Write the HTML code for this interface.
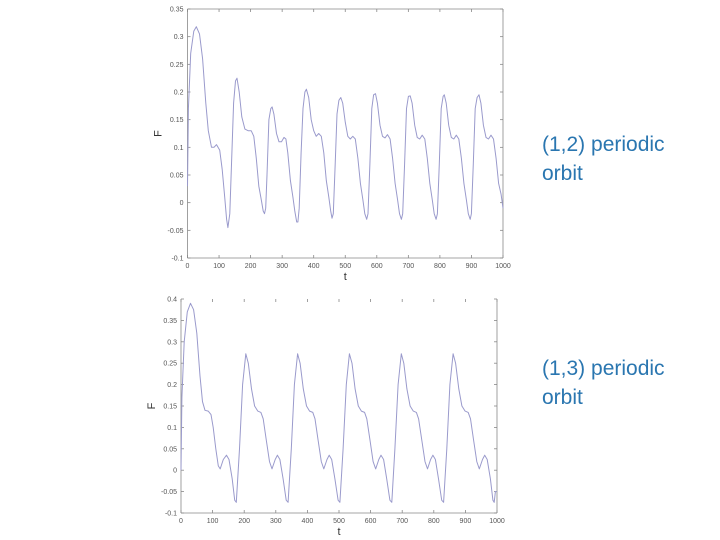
<!DOCTYPE html>
<html><head><meta charset="utf-8"><style>
body{margin:0;background:#fff;width:720px;height:540px;overflow:hidden;font-family:"Liberation Sans",sans-serif}
.cap{position:absolute;left:542px;color:#2a76b0;font-size:21px;line-height:29px}
</style></head><body>
<svg id="svg" width="720" height="540" style="position:absolute;left:0;top:0"></svg>
<div class="cap" style="top:130px">(1,2) periodic<br>orbit</div>
<div class="cap" style="top:354px">(1,3) periodic<br>orbit</div>
<script>
const xTicks=[0,100,200,300,400,500,600,700,800,900,1000];
const yTicksTop=[0.35,0.3,0.25,0.2,0.15,0.1,0.05,0,-0.05,-0.1];
const yTicksBot=[0.4,0.35,0.3,0.25,0.2,0.15,0.1,0.05,0,-0.05,-0.1];
const tTop=[0,3,10,20,28,38,48,58,66,76,84,92,102,110,118,124,128,134,140,146,152,157,164,172,182,192,202,210,218,226,234,240,244,248,252,258,264,268,274,282,290,298,306,312,318,326,334,340,346,350,354,360,366,372,377,384,392,400,408,416,424,432,440,448,454,458,462,468,474,480,486,492,500,508,516,524,532,540,548,556,562,568,572,578,584,590,596,602,610,618,626,634,642,650,658,666,672,678,682,688,694,700,706,712,720,728,736,744,752,760,768,776,782,788,792,798,804,810,814,820,828,836,844,852,860,868,876,884,890,896,900,906,912,918,924,930,938,946,954,962,970,978,986,994,1000];
const fTop=[0.03,0.17,0.27,0.31,0.318,0.305,0.26,0.18,0.13,0.10,0.10,0.105,0.095,0.06,0.01,-0.03,-0.045,-0.02,0.08,0.18,0.22,0.225,0.2,0.155,0.133,0.13,0.13,0.12,0.08,0.03,0.005,-0.015,-0.02,-0.01,0.05,0.15,0.17,0.173,0.16,0.125,0.11,0.11,0.118,0.115,0.09,0.04,0.01,-0.015,-0.035,-0.035,-0.01,0.09,0.17,0.2,0.205,0.19,0.15,0.13,0.12,0.125,0.12,0.09,0.04,0.01,-0.015,-0.028,-0.02,0.07,0.16,0.185,0.19,0.18,0.145,0.12,0.115,0.12,0.115,0.08,0.035,0.005,-0.02,-0.03,-0.02,0.07,0.17,0.195,0.197,0.18,0.14,0.12,0.117,0.123,0.115,0.08,0.035,0.005,-0.02,-0.03,-0.02,0.07,0.17,0.192,0.193,0.18,0.14,0.118,0.115,0.122,0.115,0.08,0.035,0.005,-0.02,-0.03,-0.02,0.07,0.17,0.192,0.195,0.18,0.14,0.118,0.115,0.122,0.115,0.08,0.035,0.005,-0.02,-0.03,-0.02,0.07,0.17,0.19,0.195,0.18,0.14,0.118,0.115,0.122,0.115,0.08,0.035,0.015,-0.01];
const tBot=[0,3,10,20,30,40,50,60,68,76,86,95,102,110,118,124,134,144,152,162,170,175,185,195,205,213,223,233,243,253,260,270,280,288,298,305,313,323,333,339,349,359,369,377,387,397,407,417,424,434,444,452,462,469,477,487,497,503,513,523,533,541,551,561,571,581,588,598,608,616,626,633,641,651,661,667,677,687,697,705,715,725,735,745,752,762,772,780,790,797,805,815,825,831,841,851,861,869,879,889,899,909,916,926,936,944,954,961,969,979,987,991,995,1000];
const fBot=[0,0.17,0.3,0.37,0.39,0.375,0.32,0.22,0.16,0.14,0.138,0.13,0.1,0.05,0.01,0.003,0.025,0.035,0.025,-0.02,-0.07,-0.075,0.05,0.2,0.272,0.25,0.19,0.15,0.138,0.135,0.12,0.07,0.02,0.003,0.025,0.035,0.025,-0.02,-0.07,-0.075,0.05,0.2,0.272,0.25,0.19,0.15,0.138,0.135,0.12,0.07,0.02,0.003,0.025,0.035,0.025,-0.02,-0.07,-0.075,0.05,0.2,0.272,0.25,0.19,0.15,0.138,0.135,0.12,0.07,0.02,0.003,0.025,0.035,0.025,-0.02,-0.07,-0.075,0.05,0.2,0.272,0.25,0.19,0.15,0.138,0.135,0.12,0.07,0.02,0.003,0.025,0.035,0.025,-0.02,-0.07,-0.075,0.05,0.2,0.272,0.25,0.19,0.15,0.138,0.135,0.12,0.07,0.02,0.003,0.025,0.035,0.025,-0.02,-0.07,-0.075,-0.05,-0.05];
const NS="http://www.w3.org/2000/svg",svg=document.getElementById('svg');
function mk(tag,at,txt){const e=document.createElementNS(NS,tag);for(const k in at)e.setAttribute(k,at[k]);if(txt!==undefined)e.textContent=txt;svg.appendChild(e);return e;}
function chart(id,L,R,T,B,ymin,ymax,yt,ts,fs,topLine){
 const sx=v=>L+(v-0)/1000*(R-L), sy=v=>B-(v-ymin)/(ymax-ymin)*(B-T);
 const ax=mk('g',{});
 
 
 const st={stroke:'#888','stroke-width':0.8};
 mk('line',Object.assign({x1:L,y1:T,x2:L,y2:B},st));
 mk('line',Object.assign({x1:R,y1:T,x2:R,y2:B},st));
 mk('line',Object.assign({x1:L,y1:B,x2:R,y2:B},st));
 if(topLine)mk('line',Object.assign({x1:L,y1:T,x2:R,y2:T},st));
 xTicks.forEach(v=>{const x=sx(v);
  mk('line',{x1:x,y1:B,x2:x,y2:B-3,stroke:'#888','stroke-width':0.8});
  mk('line',{x1:x,y1:T,x2:x,y2:T+3,stroke:'#888','stroke-width':0.8});
  const e=mk('text',{x:x,y:B+10,'font-size':7,fill:'#555','text-anchor':'middle'},String(v));
  
  });
 yt.forEach(v=>{const y=sy(v);
  mk('line',{x1:L,y1:y,x2:L+3,y2:y,stroke:'#888','stroke-width':0.8});
  mk('line',{x1:R,y1:y,x2:R-3,y2:y,stroke:'#888','stroke-width':0.8});
  const e=mk('text',{x:L-4,y:y+2.5,'font-size':7,fill:'#555','text-anchor':'end'},String(v));
  
  });
 const xl=mk('text',{x:(L+R)/2,y:B+22,'font-size':11,fill:'#333','text-anchor':'middle'},'t');
 
 
 const yl=mk('text',{x:L-26,y:(T+B)/2,'font-size':11,fill:'#333','text-anchor':'middle',transform:`rotate(-90 ${L-26} ${(T+B)/2})`},'F');
 
 
 const pts=ts.map((t,i)=>sx(t).toFixed(1)+','+sy(fs[i]).toFixed(1)).join(' ');
 const ln=mk('polyline',{points:pts,fill:'none',stroke:'#9a9acc','stroke-width':1,'stroke-linejoin':'round'});
 
 
}
chart('top-chart',187.5,503,9,258,-0.1,0.35,yTicksTop,tTop,fTop,true);
chart('bottom-chart',181,497,299,513,-0.1,0.4,yTicksBot,tBot,fBot,false);
</script>
</body></html>
